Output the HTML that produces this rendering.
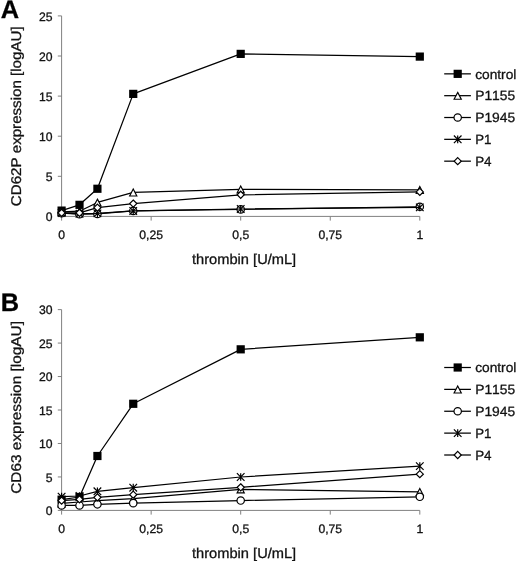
<!DOCTYPE html>
<html lang="en"><head><meta charset="utf-8"><title>Figure</title>
<style>html,body{margin:0;padding:0;background:#fff}svg text{stroke:#111;stroke-width:.3px;paint-order:stroke fill}body{width:520px;height:565px;overflow:hidden}</style>
</head><body>
<svg width="520" height="565" viewBox="0 0 520 565" style="display:block;filter:grayscale(1);font-kerning:none;text-rendering:geometricPrecision;font-family:'Liberation Sans', Arial, Helvetica, sans-serif">
<rect width="520" height="565" fill="#fff"/>
<g stroke="#808080" stroke-width="1" fill="none">
<path d="M61.6 15.90 V216.4 H419.80"/>
<path d="M57.80 216.40 H61.6"/>
<path d="M57.80 176.30 H61.6"/>
<path d="M57.80 136.20 H61.6"/>
<path d="M57.80 96.10 H61.6"/>
<path d="M57.80 56.00 H61.6"/>
<path d="M57.80 15.90 H61.6"/>
<path d="M61.60 216.4 V220.60"/>
<path d="M151.15 216.4 V220.60"/>
<path d="M240.70 216.4 V220.60"/>
<path d="M330.25 216.4 V220.60"/>
<path d="M419.80 216.4 V220.60"/>
</g>
<g font-size="12.2" fill="#111" text-anchor="end">
<text x="52.5" y="221.15">0</text>
<text x="52.5" y="181.05">5</text>
<text x="52.5" y="140.95">10</text>
<text x="52.5" y="100.85">15</text>
<text x="52.5" y="60.75">20</text>
<text x="52.5" y="20.65">25</text>
</g>
<g font-size="12.2" fill="#111" text-anchor="middle">
<text x="61.60" y="239.30">0</text>
<text x="151.15" y="239.30">0,25</text>
<text x="240.70" y="239.30">0,5</text>
<text x="330.25" y="239.30">0,75</text>
<text x="419.80" y="239.30">1</text>
</g>
<text x="192" y="264.00" font-size="14.3" textLength="104.2" lengthAdjust="spacingAndGlyphs" fill="#111">thrombin [U/mL]</text>
<text transform="translate(21.4 206.20) rotate(-90)" font-size="14.1" textLength="179.8" lengthAdjust="spacingAndGlyphs" fill="#111">CD62P expression [logAU]</text>
<text x="0.8" y="17.9" font-size="25.4" font-weight="bold" fill="#000">A</text>
<polyline points="61.60,210.60 79.51,204.84 97.42,188.76 133.24,93.88 240.70,53.88 419.80,56.60" fill="none" stroke="#000" stroke-width="1.25" stroke-linejoin="round"/>
<rect x="57.50" y="206.50" width="8.2" height="8.2" fill="#000"/>
<rect x="75.41" y="200.74" width="8.2" height="8.2" fill="#000"/>
<rect x="93.32" y="184.66" width="8.2" height="8.2" fill="#000"/>
<rect x="129.14" y="89.78" width="8.2" height="8.2" fill="#000"/>
<rect x="236.60" y="49.78" width="8.2" height="8.2" fill="#000"/>
<rect x="415.70" y="52.50" width="8.2" height="8.2" fill="#000"/>
<polyline points="61.60,211.80 79.51,211.24 97.42,202.44 133.24,192.36 240.70,189.32 419.80,189.80" fill="none" stroke="#000" stroke-width="1.25" stroke-linejoin="round"/>
<path d="M61.60 208.50 L65.20 215.40 L58.00 215.40 Z" fill="#fff" stroke="#000" stroke-width="1.15" stroke-linejoin="miter"/>
<path d="M79.51 207.94 L83.11 214.84 L75.91 214.84 Z" fill="#fff" stroke="#000" stroke-width="1.15" stroke-linejoin="miter"/>
<path d="M97.42 199.14 L101.02 206.04 L93.82 206.04 Z" fill="#fff" stroke="#000" stroke-width="1.15" stroke-linejoin="miter"/>
<path d="M133.24 189.06 L136.84 195.96 L129.64 195.96 Z" fill="#fff" stroke="#000" stroke-width="1.15" stroke-linejoin="miter"/>
<path d="M240.70 186.02 L244.30 192.92 L237.10 192.92 Z" fill="#fff" stroke="#000" stroke-width="1.15" stroke-linejoin="miter"/>
<path d="M419.80 186.50 L423.40 193.40 L416.20 193.40 Z" fill="#fff" stroke="#000" stroke-width="1.15" stroke-linejoin="miter"/>
<polyline points="61.60,213.24 79.51,214.20 97.42,213.88 133.24,210.92 240.70,209.40 419.80,206.76" fill="none" stroke="#000" stroke-width="1.25" stroke-linejoin="round"/>
<circle cx="61.6" cy="213.24" r="3.7" fill="#fff" stroke="#000" stroke-width="1.2"/>
<circle cx="79.51" cy="214.2" r="3.7" fill="#fff" stroke="#000" stroke-width="1.2"/>
<circle cx="97.42" cy="213.88" r="3.7" fill="#fff" stroke="#000" stroke-width="1.2"/>
<circle cx="133.24" cy="210.92" r="3.7" fill="#fff" stroke="#000" stroke-width="1.2"/>
<circle cx="240.7" cy="209.4" r="3.7" fill="#fff" stroke="#000" stroke-width="1.2"/>
<circle cx="419.8" cy="206.76" r="3.7" fill="#fff" stroke="#000" stroke-width="1.2"/>
<polyline points="61.60,213.00 79.51,213.80 97.42,213.40 133.24,210.92 240.70,209.00 419.80,207.40" fill="none" stroke="#000" stroke-width="1.25" stroke-linejoin="round"/>
<path d="M57.80 209.20 L65.40 216.80 M57.80 216.80 L65.40 209.20 M61.60 209.20 L61.60 216.80" fill="none" stroke="#000" stroke-width="1.2"/>
<path d="M75.71 210.00 L83.31 217.60 M75.71 217.60 L83.31 210.00 M79.51 210.00 L79.51 217.60" fill="none" stroke="#000" stroke-width="1.2"/>
<path d="M93.62 209.60 L101.22 217.20 M93.62 217.20 L101.22 209.60 M97.42 209.60 L97.42 217.20" fill="none" stroke="#000" stroke-width="1.2"/>
<path d="M129.44 207.12 L137.04 214.72 M129.44 214.72 L137.04 207.12 M133.24 207.12 L133.24 214.72" fill="none" stroke="#000" stroke-width="1.2"/>
<path d="M236.90 205.20 L244.50 212.80 M236.90 212.80 L244.50 205.20 M240.70 205.20 L240.70 212.80" fill="none" stroke="#000" stroke-width="1.2"/>
<path d="M416.00 203.60 L423.60 211.20 M416.00 211.20 L423.60 203.60 M419.80 203.60 L419.80 211.20" fill="none" stroke="#000" stroke-width="1.2"/>
<polyline points="61.60,212.84 79.51,212.84 97.42,207.64 133.24,203.56 240.70,194.76 419.80,191.88" fill="none" stroke="#000" stroke-width="1.25" stroke-linejoin="round"/>
<path d="M61.60 209.29 L65.15 212.84 L61.60 216.39 L58.05 212.84 Z" fill="#fff" stroke="#000" stroke-width="1.2"/>
<path d="M79.51 209.29 L83.06 212.84 L79.51 216.39 L75.96 212.84 Z" fill="#fff" stroke="#000" stroke-width="1.2"/>
<path d="M97.42 204.09 L100.97 207.64 L97.42 211.19 L93.87 207.64 Z" fill="#fff" stroke="#000" stroke-width="1.2"/>
<path d="M133.24 200.01 L136.79 203.56 L133.24 207.11 L129.69 203.56 Z" fill="#fff" stroke="#000" stroke-width="1.2"/>
<path d="M240.70 191.21 L244.25 194.76 L240.70 198.31 L237.15 194.76 Z" fill="#fff" stroke="#000" stroke-width="1.2"/>
<path d="M419.80 188.33 L423.35 191.88 L419.80 195.43 L416.25 191.88 Z" fill="#fff" stroke="#000" stroke-width="1.2"/>
<path d="M444.2 73.85 H470.9" stroke="#000" stroke-width="1.25"/>
<rect x="453.60" y="69.75" width="8.2" height="8.2" fill="#000"/>
<text x="475.2" y="78.55" font-size="13.4" textLength="41.2" lengthAdjust="spacingAndGlyphs" fill="#111">control</text>
<path d="M444.2 95.68 H470.9" stroke="#000" stroke-width="1.25"/>
<path d="M457.70 92.38 L461.30 99.28 L454.10 99.28 Z" fill="#fff" stroke="#000" stroke-width="1.15" stroke-linejoin="miter"/>
<text x="475.2" y="100.38" font-size="13.4" textLength="40.0" lengthAdjust="spacingAndGlyphs" fill="#111">P1155</text>
<path d="M444.2 117.51 H470.9" stroke="#000" stroke-width="1.25"/>
<circle cx="457.7" cy="117.51" r="3.7" fill="#fff" stroke="#000" stroke-width="1.2"/>
<text x="475.2" y="122.21" font-size="13.4" textLength="40.0" lengthAdjust="spacingAndGlyphs" fill="#111">P1945</text>
<path d="M444.2 139.34 H470.9" stroke="#000" stroke-width="1.25"/>
<path d="M453.90 135.54 L461.50 143.14 M453.90 143.14 L461.50 135.54 M457.70 135.54 L457.70 143.14" fill="none" stroke="#000" stroke-width="1.2"/>
<text x="475.2" y="144.04" font-size="13.4" textLength="16.2" lengthAdjust="spacingAndGlyphs" fill="#111">P1</text>
<path d="M444.2 161.17 H470.9" stroke="#000" stroke-width="1.25"/>
<path d="M457.70 157.62 L461.25 161.17 L457.70 164.72 L454.15 161.17 Z" fill="#fff" stroke="#000" stroke-width="1.2"/>
<text x="475.2" y="165.87" font-size="13.4" textLength="16.4" lengthAdjust="spacingAndGlyphs" fill="#111">P4</text>
<g stroke="#808080" stroke-width="1" fill="none">
<path d="M61.6 309.61 V510.4 H419.80"/>
<path d="M57.80 510.40 H61.6"/>
<path d="M57.80 476.94 H61.6"/>
<path d="M57.80 443.47 H61.6"/>
<path d="M57.80 410.00 H61.6"/>
<path d="M57.80 376.54 H61.6"/>
<path d="M57.80 343.07 H61.6"/>
<path d="M57.80 309.61 H61.6"/>
<path d="M61.60 510.4 V514.60"/>
<path d="M151.15 510.4 V514.60"/>
<path d="M240.70 510.4 V514.60"/>
<path d="M330.25 510.4 V514.60"/>
<path d="M419.80 510.4 V514.60"/>
</g>
<g font-size="12.2" fill="#111" text-anchor="end">
<text x="52.5" y="515.15">0</text>
<text x="52.5" y="481.69">5</text>
<text x="52.5" y="448.22">10</text>
<text x="52.5" y="414.75">15</text>
<text x="52.5" y="381.29">20</text>
<text x="52.5" y="347.82">25</text>
<text x="52.5" y="314.36">30</text>
</g>
<g font-size="12.2" fill="#111" text-anchor="middle">
<text x="61.60" y="533.30">0</text>
<text x="151.15" y="533.30">0,25</text>
<text x="240.70" y="533.30">0,5</text>
<text x="330.25" y="533.30">0,75</text>
<text x="419.80" y="533.30">1</text>
</g>
<text x="192" y="558.00" font-size="14.3" textLength="104.2" lengthAdjust="spacingAndGlyphs" fill="#111">thrombin [U/mL]</text>
<text transform="translate(21.4 493.75) rotate(-90)" font-size="14.1" textLength="172.7" lengthAdjust="spacingAndGlyphs" fill="#111">CD63 expression [logAU]</text>
<text x="0.8" y="311.2" font-size="25.4" font-weight="bold" fill="#000">B</text>
<polyline points="61.60,499.67 79.51,497.00 97.42,456.00 133.24,403.79 240.70,349.33 419.80,337.32" fill="none" stroke="#000" stroke-width="1.25" stroke-linejoin="round"/>
<rect x="57.50" y="495.57" width="8.2" height="8.2" fill="#000"/>
<rect x="75.41" y="492.90" width="8.2" height="8.2" fill="#000"/>
<rect x="93.32" y="451.90" width="8.2" height="8.2" fill="#000"/>
<rect x="129.14" y="399.69" width="8.2" height="8.2" fill="#000"/>
<rect x="236.60" y="345.23" width="8.2" height="8.2" fill="#000"/>
<rect x="415.70" y="333.22" width="8.2" height="8.2" fill="#000"/>
<polyline points="61.60,503.33 79.51,502.00 97.42,500.67 133.24,498.67 240.70,489.33 419.80,491.80" fill="none" stroke="#000" stroke-width="1.25" stroke-linejoin="round"/>
<path d="M61.60 500.03 L65.20 506.93 L58.00 506.93 Z" fill="#fff" stroke="#000" stroke-width="1.15" stroke-linejoin="miter"/>
<path d="M79.51 498.70 L83.11 505.60 L75.91 505.60 Z" fill="#fff" stroke="#000" stroke-width="1.15" stroke-linejoin="miter"/>
<path d="M97.42 497.37 L101.02 504.27 L93.82 504.27 Z" fill="#fff" stroke="#000" stroke-width="1.15" stroke-linejoin="miter"/>
<path d="M133.24 495.37 L136.84 502.27 L129.64 502.27 Z" fill="#fff" stroke="#000" stroke-width="1.15" stroke-linejoin="miter"/>
<path d="M240.70 486.03 L244.30 492.93 L237.10 492.93 Z" fill="#fff" stroke="#000" stroke-width="1.15" stroke-linejoin="miter"/>
<path d="M419.80 488.50 L423.40 495.40 L416.20 495.40 Z" fill="#fff" stroke="#000" stroke-width="1.15" stroke-linejoin="miter"/>
<polyline points="61.60,505.47 79.51,505.47 97.42,504.33 133.24,503.13 240.70,500.53 419.80,496.80" fill="none" stroke="#000" stroke-width="1.25" stroke-linejoin="round"/>
<circle cx="61.6" cy="505.47" r="3.7" fill="#fff" stroke="#000" stroke-width="1.2"/>
<circle cx="79.51" cy="505.47" r="3.7" fill="#fff" stroke="#000" stroke-width="1.2"/>
<circle cx="97.42" cy="504.33" r="3.7" fill="#fff" stroke="#000" stroke-width="1.2"/>
<circle cx="133.24" cy="503.13" r="3.7" fill="#fff" stroke="#000" stroke-width="1.2"/>
<circle cx="240.7" cy="500.53" r="3.7" fill="#fff" stroke="#000" stroke-width="1.2"/>
<circle cx="419.8" cy="496.8" r="3.7" fill="#fff" stroke="#000" stroke-width="1.2"/>
<polyline points="61.60,496.67 79.51,496.00 97.42,491.33 133.24,487.67 240.70,477.00 419.80,466.13" fill="none" stroke="#000" stroke-width="1.25" stroke-linejoin="round"/>
<path d="M57.80 492.87 L65.40 500.47 M57.80 500.47 L65.40 492.87 M61.60 492.87 L61.60 500.47" fill="none" stroke="#000" stroke-width="1.2"/>
<path d="M75.71 492.20 L83.31 499.80 M75.71 499.80 L83.31 492.20 M79.51 492.20 L79.51 499.80" fill="none" stroke="#000" stroke-width="1.2"/>
<path d="M93.62 487.53 L101.22 495.13 M93.62 495.13 L101.22 487.53 M97.42 487.53 L97.42 495.13" fill="none" stroke="#000" stroke-width="1.2"/>
<path d="M129.44 483.87 L137.04 491.47 M129.44 491.47 L137.04 483.87 M133.24 483.87 L133.24 491.47" fill="none" stroke="#000" stroke-width="1.2"/>
<path d="M236.90 473.20 L244.50 480.80 M236.90 480.80 L244.50 473.20 M240.70 473.20 L240.70 480.80" fill="none" stroke="#000" stroke-width="1.2"/>
<path d="M416.00 462.33 L423.60 469.93 M416.00 469.93 L423.60 462.33 M419.80 462.33 L419.80 469.93" fill="none" stroke="#000" stroke-width="1.2"/>
<polyline points="61.60,500.67 79.51,499.33 97.42,497.33 133.24,494.67 240.70,487.33 419.80,474.13" fill="none" stroke="#000" stroke-width="1.25" stroke-linejoin="round"/>
<path d="M61.60 497.12 L65.15 500.67 L61.60 504.22 L58.05 500.67 Z" fill="#fff" stroke="#000" stroke-width="1.2"/>
<path d="M79.51 495.78 L83.06 499.33 L79.51 502.88 L75.96 499.33 Z" fill="#fff" stroke="#000" stroke-width="1.2"/>
<path d="M97.42 493.78 L100.97 497.33 L97.42 500.88 L93.87 497.33 Z" fill="#fff" stroke="#000" stroke-width="1.2"/>
<path d="M133.24 491.12 L136.79 494.67 L133.24 498.22 L129.69 494.67 Z" fill="#fff" stroke="#000" stroke-width="1.2"/>
<path d="M240.70 483.78 L244.25 487.33 L240.70 490.88 L237.15 487.33 Z" fill="#fff" stroke="#000" stroke-width="1.2"/>
<path d="M419.80 470.58 L423.35 474.13 L419.80 477.68 L416.25 474.13 Z" fill="#fff" stroke="#000" stroke-width="1.2"/>
<path d="M444.2 367.50 H470.9" stroke="#000" stroke-width="1.25"/>
<rect x="453.60" y="363.40" width="8.2" height="8.2" fill="#000"/>
<text x="475.2" y="372.20" font-size="13.4" textLength="41.2" lengthAdjust="spacingAndGlyphs" fill="#111">control</text>
<path d="M444.2 389.38 H470.9" stroke="#000" stroke-width="1.25"/>
<path d="M457.70 386.08 L461.30 392.98 L454.10 392.98 Z" fill="#fff" stroke="#000" stroke-width="1.15" stroke-linejoin="miter"/>
<text x="475.2" y="394.07" font-size="13.4" textLength="40.0" lengthAdjust="spacingAndGlyphs" fill="#111">P1155</text>
<path d="M444.2 411.25 H470.9" stroke="#000" stroke-width="1.25"/>
<circle cx="457.7" cy="411.25" r="3.7" fill="#fff" stroke="#000" stroke-width="1.2"/>
<text x="475.2" y="415.95" font-size="13.4" textLength="40.0" lengthAdjust="spacingAndGlyphs" fill="#111">P1945</text>
<path d="M444.2 433.12 H470.9" stroke="#000" stroke-width="1.25"/>
<path d="M453.90 429.32 L461.50 436.92 M453.90 436.92 L461.50 429.32 M457.70 429.32 L457.70 436.92" fill="none" stroke="#000" stroke-width="1.2"/>
<text x="475.2" y="437.82" font-size="13.4" textLength="16.2" lengthAdjust="spacingAndGlyphs" fill="#111">P1</text>
<path d="M444.2 455.00 H470.9" stroke="#000" stroke-width="1.25"/>
<path d="M457.70 451.45 L461.25 455.00 L457.70 458.55 L454.15 455.00 Z" fill="#fff" stroke="#000" stroke-width="1.2"/>
<text x="475.2" y="459.70" font-size="13.4" textLength="16.4" lengthAdjust="spacingAndGlyphs" fill="#111">P4</text>
</svg>
</body></html>
